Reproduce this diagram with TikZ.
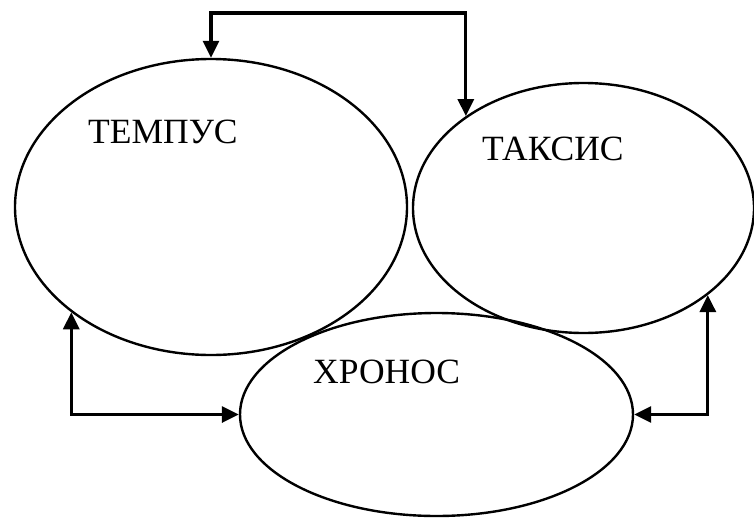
\documentclass[tikz,border=0pt]{standalone}
\usepackage{fontspec}
\setmainfont{Liberation Serif}
\usetikzlibrary{arrows.meta,shapes.geometric}
\begin{document}
\begin{tikzpicture}[x=1pt,y=-1pt,
  oval/.style={draw=black,ellipse,line width=2.4pt,inner sep=0pt},
  lbl/.style={anchor=base west,inner sep=0pt,font=\fontsize{35.5}{40}\selectfont},
  link/.style={line width=3.2pt,{Triangle[width=16pt,length=17pt]}-{Triangle[width=16pt,length=17pt]}}
]
\useasboundingbox[fill=white] (0,0) rectangle (754,517);
\node[oval,minimum width=392pt,minimum height=296pt] (tempus) at (211,207) {};
\node[oval,minimum width=341pt,minimum height=250pt] (taksis) at (583.5,208) {};
\node[oval,minimum width=393pt,minimum height=203pt] (khronos) at (436.5,414.5) {};
\node[lbl] (tl) at (88,143) {ТЕМПУС};
\node[lbl] (kl) at (482,160) {ТАКСИС};
\node[lbl] (hl) at (313,383) {ХРОНОС};
\coordinate (top) at (0,13);
\draw[link] (tempus.north) -- (tempus.north |- top) -| (taksis.142.8);
\draw[link] (tempus.217.3) |- (khronos.west);
\draw[link] (taksis.325.7) |- (khronos.east);
\end{tikzpicture}
\end{document}
